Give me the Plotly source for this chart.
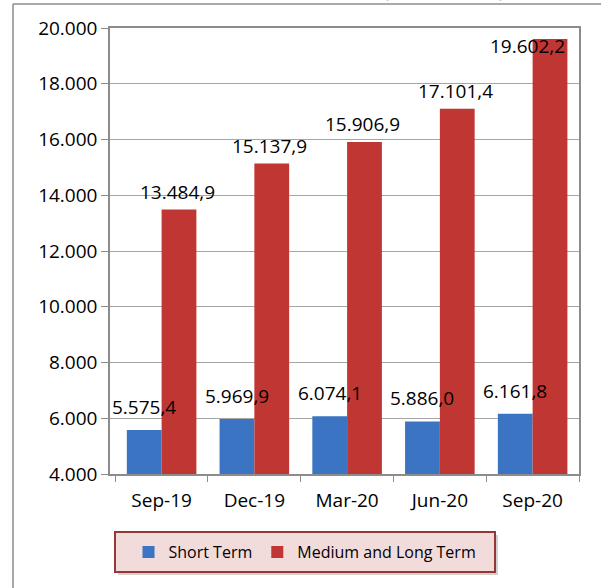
import plotly.graph_objects as go

quarters = ["Sep-19", "Dec-19", "Mar-20", "Jun-20", "Sep-20"]
short_term = [5575.4, 5969.9, 6074.1, 5886.0, 6161.8]
medium_long_term = [13484.9, 15137.9, 15906.9, 17101.4, 19602.2]

BLUE = "#3a74c2"
RED = "#c03633"
FONT = "Open Sans"


def fmt(v):
    # 13484.9 -> "13.484,9"
    return f"{v:,.1f}".replace(",", "#").replace(".", ",").replace("#", ".")


fig = go.Figure()

fig.add_trace(go.Bar(
    x=quarters, y=short_term, name="Short Term",
    marker=dict(color=BLUE, line=dict(width=0)),
))
fig.add_trace(go.Bar(
    x=quarters, y=medium_long_term, name="Medium and Long Term",
    marker=dict(color=RED, line=dict(width=0)),
))

# data labels as annotations so they sit on top of the neighbouring bars
half = 17.6
for q, v in zip(quarters, short_term):
    fig.add_annotation(x=q, y=v, xref="x", yref="y", text=fmt(v),
                       showarrow=False, xshift=-half, yshift=23,
                       yanchor="middle", font=dict(size=19, color="#000"))
for q, v in zip(quarters, medium_long_term):
    if v > 19000:
        fig.add_annotation(x=q, y=v, xref="x", yref="y", text=fmt(v),
                           showarrow=False, xshift=2 * half - 1, yshift=-7,
                           xanchor="right", yanchor="middle",
                           font=dict(size=19, color="#000"))
    else:
        fig.add_annotation(x=q, y=v, xref="x", yref="y", text=fmt(v),
                           showarrow=False, xshift=half - 2, yshift=18,
                           yanchor="middle", font=dict(size=19, color="#000"))

# title, mostly cut off by the top of the page
fig.add_annotation(x=0.712, xref="paper", y=1.0, yref="paper",
                   text="<b>(Million USD)</b>", showarrow=False,
                   xanchor="center", yanchor="bottom", yshift=23,
                   font=dict(size=19, color="#a0302e"))

line_col = "#8c8c8c"
fig.update_layout(
    width=601, height=588,
    margin=dict(l=110, r=22, t=28, b=114),
    paper_bgcolor="white", plot_bgcolor="white",
    font=dict(family=FONT, size=19, color="#000"),
    separators=",.",
    barmode="group", bargap=0.25, bargroupgap=0,
    showlegend=True,
    legend=dict(
        orientation="h", x=0.4158, xanchor="center", y=-0.175, yanchor="middle",
        bgcolor="rgba(0,0,0,0)", borderwidth=0,
        font=dict(size=16, color="#000"),
    ),
    shapes=[
        # outer chart frame (left and top edges)
        dict(type="line", xref="paper", yref="paper", x0=-0.2068, x1=-0.2068,
             y0=1.0538, y1=-0.3, line=dict(color=line_col, width=1.5)),
        dict(type="line", xref="paper", yref="paper", x0=-0.2068, x1=1.2,
             y0=1.0538, y1=1.0538, line=dict(color=line_col, width=1.5)),
        # legend box with a soft shadow
        dict(type="rect", xref="paper", yref="paper", x0=0.0171, x1=0.8273,
             y0=-0.2265, y1=-0.1368, fillcolor="rgba(0,0,0,0.18)",
             line=dict(width=0)),
        dict(type="rect", xref="paper", yref="paper", x0=0.01066, x1=0.8209,
             y0=-0.2197, y1=-0.130, fillcolor="#f2dcdb",
             line=dict(color="#953735", width=2)),
    ],
)

fig.update_xaxes(
    type="category", showgrid=False,
    showline=True, linecolor=line_col, linewidth=1.5, mirror=True,
    ticks="outside", tickson="boundaries", ticklen=6, tickcolor=line_col,
    tickfont=dict(size=19), ticklabelstandoff=8,
)
fig.update_yaxes(
    range=[4000, 20000], dtick=2000, tickformat=",.0f",
    showgrid=True, gridcolor="#a6a6a6", gridwidth=1.2,
    showline=True, linecolor=line_col, linewidth=1.5, mirror=True,
    ticks="outside", ticklen=7, tickcolor=line_col,
    tickfont=dict(size=19), zeroline=False,
)

fig.write_html("out.html", config={"displayModeBar": False},
               post_script="document.body.style.margin='0';")
